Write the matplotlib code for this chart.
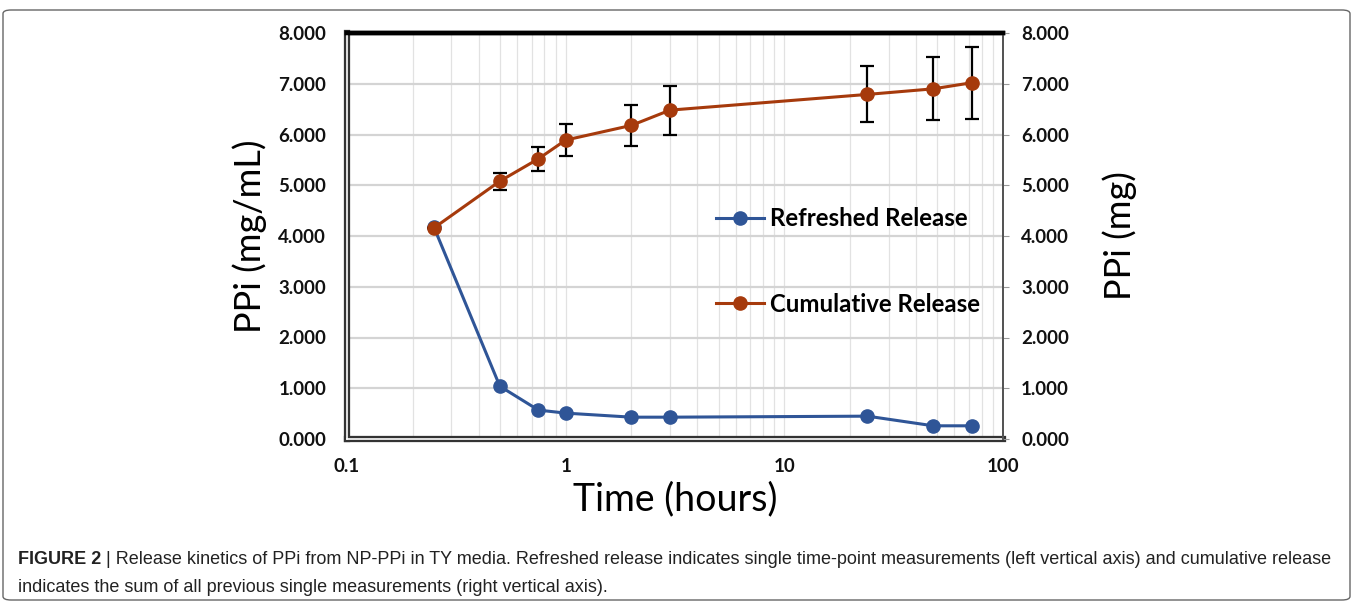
import numpy as np
import matplotlib.pyplot as plt
from matplotlib.patches import FancyBboxPatch
from matplotlib.lines import Line2D

# ── Data ─────────────────────────────────────────────────────
time_h = [0.25, 0.5, 0.75, 1, 2, 3, 24, 48, 72]
refreshed = [4.17, 1.04, 0.57, 0.51, 0.43, 0.43, 0.45, 0.26, 0.26]
cumulative = [4.16, 5.08, 5.52, 5.89, 6.18, 6.48, 6.79, 6.90, 7.02]
cum_err = [0.0, 0.17, 0.24, 0.32, 0.40, 0.48, 0.55, 0.62, 0.71]
yticks = [0, 1, 2, 3, 4, 5, 6, 7, 8]
xticks = [0.1, 1, 10, 100]
xtick_labels = ['0.1', '1', '10', '100']

BLUE = '#2f5597'
RUST = '#a63a0c'
FONT = 'Lato'

W, H = 1354, 604
fig = plt.figure(figsize=(W / 100, H / 100), dpi=100)
fig.patch.set_facecolor('white')

# outer frame of the figure panel
frame = FancyBboxPatch((3 / W, 4 / H), 1347 / W, 590 / H,
                       boxstyle='round,pad=0,rounding_size=0.006',
                       transform=fig.transFigure, fill=False,
                       edgecolor='#666666', lw=1.0)
fig.patches.append(frame)

ax = fig.add_axes([347 / W, 1 - 439 / H, 656 / W, 406 / H])
ax2 = ax.twinx()

ax.set_xscale('log')
ax.set_xlim(0.1, 100)
ax.set_ylim(0, 8)
ax2.set_ylim(0, 8)

# grid
ax.set_yticks(yticks)
ax.yaxis.grid(True, color='#d4d4d4', lw=1.6)
ax.xaxis.grid(True, which='both', color='#e2e2e2', lw=0.9)
ax.set_axisbelow(True)

# series
ax.plot(time_h, refreshed, color=BLUE, lw=2.2, marker='o', ms=9.5,
        zorder=3, clip_on=False)
ax2.errorbar(time_h, cumulative, yerr=cum_err, color=RUST, lw=2.2,
             marker='o', ms=9.5, ecolor='black', elinewidth=1.6,
             capsize=5, capthick=1.6, zorder=3)

# spines
for a in (ax, ax2):
    a.spines['top'].set_color('black')
    a.spines['top'].set_linewidth(3.2)
    a.spines['right'].set_color('#555555')
    a.spines['right'].set_linewidth(1.4)
for s in ('left', 'bottom'):
    ax.spines[s].set_color('#333333')
    ax.spines[s].set_linewidth(4.5)
    ax2.spines[s].set_visible(False)
# inner white line -> double-line look
ax.plot([0, 0], [0, 1], transform=ax.transAxes, color='white', lw=1.2,
        clip_on=False, zorder=5)
ax.plot([0, 1], [0, 0], transform=ax.transAxes, color='white', lw=1.2,
        clip_on=False, zorder=5)

# ticks
ax.set_xticks(xticks)
ax.set_xticklabels(xtick_labels)
ax.tick_params(axis='x', which='both', length=0, pad=14)
ax.tick_params(axis='y', length=0, pad=15)
ax2.set_yticks(yticks)
ax2.tick_params(axis='y', length=4, color='#999999', pad=9)
ax.set_yticklabels([f'{v:.3f}' for v in yticks])
ax2.set_yticklabels([f'{v:.3f}' for v in yticks])
for lab in ax.get_xticklabels() + ax.get_yticklabels() + ax2.get_yticklabels():
    lab.set_fontfamily(FONT)
    lab.set_fontweight('bold')
    lab.set_fontsize(13.5)
    lab.set_color('#111111')

ax.set_ylabel('PPi (mg/mL)', fontsize=26, family=FONT, labelpad=8)
ax2.set_ylabel('PPi (mg)', fontsize=26, family=FONT, labelpad=24)
ax.set_xlabel('Time (hours)', fontsize=27, family=FONT, labelpad=4)

# legend
handles = [Line2D([], [], color=BLUE, lw=2.2, marker='o', ms=9.5),
           Line2D([], [], color=RUST, lw=2.2, marker='o', ms=9.5)]
ax2.legend(handles, ['Refreshed Release', 'Cumulative Release'],
           loc='center left', bbox_to_anchor=(0.53, 0.437),
           frameon=False, handlelength=2.0, handletextpad=0.25,
           labelspacing=2.6,
           prop={'family': FONT, 'weight': 'bold', 'size': 17.3})

# caption: bold lead-in followed by plain text
cap_size = 13.0
y1 = 1 - 560 / H
lead = fig.text(18 / W, y1, 'FIGURE 2', fontsize=cap_size, weight='bold',
                family='Liberation Sans', color='#222222', va='center')
fig.canvas.draw()
x_after = lead.get_window_extent().x1 / W
fig.text(x_after, y1,
         ' | Release kinetics of PPi from NP-PPi in TY media. '
         'Refreshed release indicates single time-point measurements '
         '(left vertical axis) and cumulative release',
         fontsize=cap_size, family='Liberation Sans', color='#222222',
         va='center')
fig.text(18 / W, 1 - 587 / H,
         'indicates the sum of all previous single measurements (right vertical axis).',
         fontsize=cap_size, family='Liberation Sans', color='#222222', va='center')

plt.savefig('out.png', dpi=100, facecolor='white')
